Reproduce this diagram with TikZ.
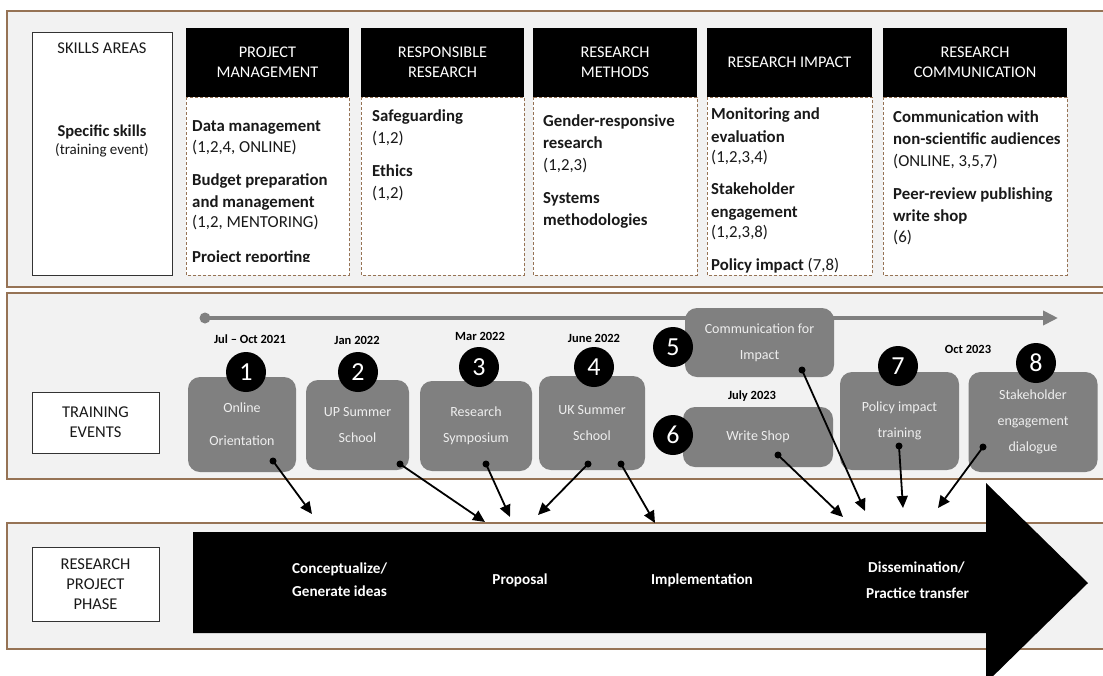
\documentclass[tikz,border=0pt]{standalone}
\usepackage{fontspec}
\setmainfont{Carlito}
\usetikzlibrary{arrows.meta}
\definecolor{panelbrown}{RGB}{150,115,85}
\definecolor{panelfill}{RGB}{242,242,242}
\definecolor{evgray}{RGB}{128,128,128}
\definecolor{evtext}{RGB}{238,238,238}
\definecolor{tlgray}{RGB}{128,128,128}
\begin{document}
\begin{tikzpicture}[x=1pt,y=-1pt,
  panel/.style={draw=panelbrown, line width=1.6pt, fill=panelfill},
  labelbox/.style={draw=black!80, line width=1pt, fill=white},
  labeltxt/.style={inner sep=0, font=\fontsize{16.5}{20}\selectfont, text=black!90, align=center},
  header/.style={fill=black, text=white, inner sep=0, align=center, font=\fontsize{16.3}{20}\selectfont},
  skillbox/.style={draw=panelbrown, dash pattern=on 3pt off 2pt, line width=0.9pt, fill=white},
  skilltxt/.style={anchor=base west, inner sep=0, font=\fontsize{16.8}{19}\selectfont, text=black!90},
  event/.style={fill=evgray, rounded corners=12pt, text=evtext, align=center, inner sep=0, font=\fontsize{14}{26}\selectfont},
  num/.style={circle, fill=black, text=white, minimum size=40pt, inner sep=0, font=\fontsize{26}{26}\selectfont},
  datetxt/.style={inner sep=0, font=\bfseries\fontsize{12.5}{14}\selectfont, text=black},
  conn/.style={line width=1.8pt, -{Triangle[length=12pt,width=11pt]}},
  phasetxt/.style={inner sep=0, text=white, font=\bfseries\fontsize{15.2}{23}\selectfont}
]
\useasboundingbox (0,0) rectangle (1103,675);
\fill[white] (0,0) rectangle (1103,675);

% ---------- panels ----------
\draw[panel] (7,11) rectangle (1120,287);
\draw[panel] (7,293) rectangle (1120,479);
\draw[panel] (7,523) rectangle (1120,649);

% ---------- top panel ----------
\draw[labelbox] (32,32) rectangle (172,275);
\node[labeltxt] (skillsareas) at (102,48) {SKILLS AREAS};
\node[labeltxt, anchor=base] (specific) at (102,136) {\textbf{Specific skills}};
\node[labeltxt, anchor=base, font=\fontsize{15}{18}\selectfont] (trainev) at (102,154) {(training event)};

% column boxes
\draw[skillbox] (186,97) rectangle (349,275);
\draw[skillbox] (361,97) rectangle (524,275);
\draw[skillbox] (533,97) rectangle (697,275);
\draw[skillbox] (707,97) rectangle (872,275);
\draw[skillbox] (883,97) rectangle (1067,275);

\node[header, minimum width=163pt, minimum height=69pt] (h1) at (267.5,62.5) {PROJECT\\MANAGEMENT};
\node[header, minimum width=163pt, minimum height=69pt] (h2) at (442.5,62.5) {RESPONSIBLE\\RESEARCH};
\node[header, minimum width=164pt, minimum height=69pt] (h3) at (615,62.5) {RESEARCH\\METHODS};
\node[header, minimum width=165pt, minimum height=69pt] (h4) at (789.5,62.5) {RESEARCH IMPACT};
\node[header, minimum width=184pt, minimum height=69pt] (h5) at (975,62.5) {RESEARCH\\COMMUNICATION};

\begin{scope}
\clip (186,97) rectangle (349,261);
\foreach \y/\t [count=\i] in {131/{\textbf{Data management}}, 152/{(1,2,4, ONLINE)},
   185/{\textbf{Budget preparation}}, 207/{\textbf{and management}}, 227/{(1,2, MENTORING)},
   262/{\textbf{Project reporting}}}
  \node[skilltxt] (pm\i) at (192,\y) {\t};
\end{scope}
\foreach \y/\t [count=\i] in {121/{\textbf{Safeguarding}}, 143/{(1,2)}, 176/{\textbf{Ethics}}, 198/{(1,2)}}
  \node[skilltxt] (rr\i) at (372,\y) {\t};
\foreach \y/\t [count=\i] in {126/{\textbf{Gender-responsive}}, 148/{\textbf{research}}, 170/{(1,2,3)},
   203/{\textbf{Systems}}, 225/{\textbf{methodologies}}}
  \node[skilltxt] (rm\i) at (543,\y) {\t};
\foreach \y/\t [count=\i] in {119/{\textbf{Monitoring and}}, 142/{\textbf{evaluation}}, 162/{(1,2,3,4)},
   194/{\textbf{Stakeholder}}, 217/{\textbf{engagement}}, 237/{(1,2,3,8)},
   270/{\textbf{Policy impact} (7,8)}}
  \node[skilltxt] (ri\i) at (711,\y) {\t};
\foreach \y/\t [count=\i] in {122/{\textbf{Communication with}}, 144/{\textbf{non-scientific audiences}},
   166/{(ONLINE, 3,5,7)}, 199/{\textbf{Peer-review publishing}}, 221/{\textbf{write shop}}, 242/{(6)}}
  \node[skilltxt] (rc\i) at (893,\y) {\t};

% ---------- middle panel ----------
\draw[labelbox] (32,392) rectangle (159,453);
\node[labeltxt] (training) at (95.5,422.5) {TRAINING\\EVENTS};

\coordinate (tlstart) at (205,318);
\coordinate (tlend) at (1058,318);
\draw[tlgray, line width=4pt, -{Triangle[length=15pt,width=14pt]}] (tlstart) -- (tlend);
\fill[tlgray] (tlstart) circle (5.5);

\node[event, minimum width=108pt, minimum height=95pt] (e1) at (242,424.5) {Online\\[7pt]Orientation};
\node[event, minimum width=103pt, minimum height=90pt] (e2) at (357.5,425) {UP Summer\\School};
\node[event, minimum width=112pt, minimum height=90pt] (e3) at (476,426) {Research\\Symposium};
\node[event, minimum width=106pt, minimum height=94pt] (e4) at (592,423) {UK Summer\\School};
\node[event, minimum width=149pt, minimum height=69pt] (e5) at (759.5,342.5) {Communication for\\Impact};
\node[event, minimum width=150pt, minimum height=60pt] (e6) at (758,437) {Write Shop};
\node[event, minimum width=119pt, minimum height=98pt] (e7) at (899.5,421) {Policy impact\\training};
\node[event, minimum width=129pt, minimum height=100pt] (e8) at (1033,422) {Stakeholder\\engagement\\dialogue};

\node[num] (n1) at (246,372) {1};
\node[num] (n2) at (358,372) {2};
\node[num] (n3) at (479,367) {3};
\node[num] (n4) at (594,367) {4};
\node[num] (n5) at (673,347) {5};
\node[num] (n6) at (673,435) {6};
\node[num] (n7) at (898,366) {7};
\node[num] (n8) at (1036,363) {8};

\node[datetxt] (dt1) at (250,339) {Jul -- Oct 2021};
\node[datetxt] (dt2) at (357,340) {Jan 2022};
\node[datetxt] (dt3) at (480,336) {Mar 2022};
\node[datetxt] (dt4) at (594,338) {June 2022};
\node[datetxt] (dt6) at (752,396) {July 2023};
\node[datetxt] (dt8) at (968,349) {Oct 2023};

% ---------- bottom panel ----------
\draw[labelbox] (32,547) rectangle (159,621);
\node[labeltxt] (phase) at (95.5,584.5) {RESEARCH\\PROJECT\\PHASE};

\fill[black] (193,532) -- (986,532) -- (986,483) -- (1088,583) -- (986,683) -- (986,633) -- (193,633) -- cycle;

\node[phasetxt, anchor=base west] (ph1a) at (292,573) {Conceptualize/};
\node[phasetxt, anchor=base west] (ph1b) at (292,596) {Generate ideas};
\node[phasetxt] (ph2) at (520,580) {Proposal};
\node[phasetxt] (ph3) at (702,580) {Implementation};
\node[phasetxt, anchor=base west] (ph4a) at (868,572) {Dissemination/};
\node[phasetxt, anchor=base west] (ph4b) at (866,598) {Practice transfer};

% ---------- connectors ----------
\coordinate (d1) at (273,461);  \coordinate (t1) at (312,514);
\coordinate (d2) at (400,464);  \coordinate (t2) at (485,522);
\coordinate (d3) at (486,464);  \coordinate (t3) at (510,517);
\coordinate (d4a) at (588,464); \coordinate (t4a) at (538,515);
\coordinate (d4b) at (621,464); \coordinate (t4b) at (655,523);
\coordinate (d6) at (778,455);  \coordinate (t6) at (843,517);
\coordinate (d5) at (802,370);  \coordinate (t5) at (865,511);
\coordinate (d7) at (899,446);  \coordinate (t7) at (903,508);
\coordinate (d8) at (983,447);  \coordinate (t8) at (938,508);
\foreach \a/\b in {d1/t1, d2/t2, d3/t3, d4a/t4a, d4b/t4b, d6/t6, d5/t5, d7/t7, d8/t8}{
  \draw[conn] (\a) -- (\b);
  \fill[black] (\a) circle (3.5);
}
\end{tikzpicture}
\end{document}
